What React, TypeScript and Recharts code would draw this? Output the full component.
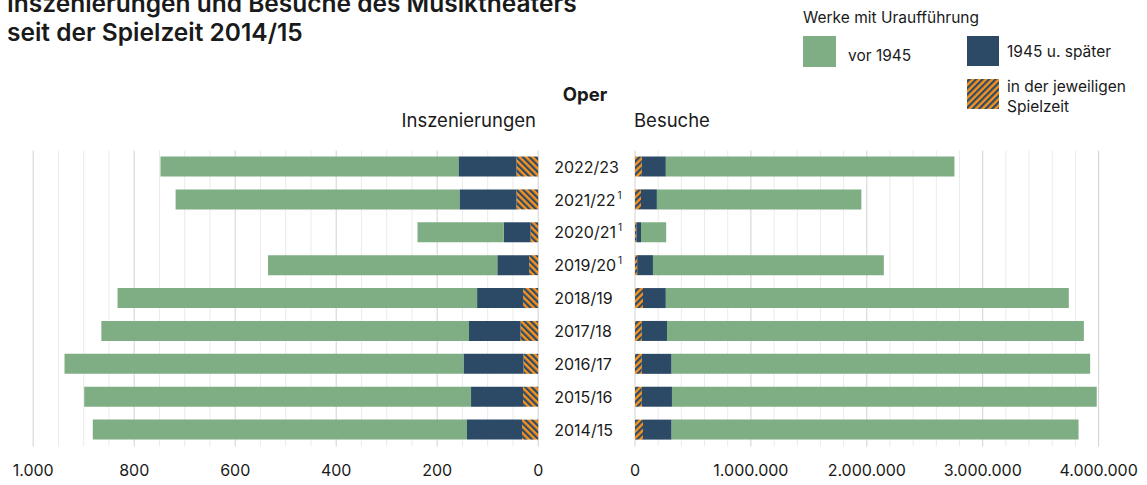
import React from 'react';
import { BarChart, Bar, XAxis, YAxis, CartesianGrid } from 'recharts';

const seasons = ['2022/23', '2021/22', '2020/21', '2019/20', '2018/19', '2017/18', '2016/17', '2015/16', '2014/15'];
const footnotedSeasons = ['2021/22', '2020/21', '2019/20'];

// Inszenierungen
const inszVor1945 = [590, 562, 171, 454, 712, 728, 790, 766, 741];
const insz1945 = [115, 113, 53, 63, 91, 102, 119, 103, 109];
const inszSpielzeit = [43, 43, 15, 18, 30, 35, 29, 30, 32];

// Besuche
const besVor1945 = [2490000, 1764000, 217000, 1992000, 3477000, 3597000, 3611000, 3665000, 3511000];
const bes1945 = [207000, 137000, 40000, 136000, 197000, 217000, 257000, 260000, 247000];
const besSpielzeit = [59000, 52000, 12000, 19000, 69000, 59000, 59000, 59000, 69000];

const inszMajorTicks = [0, 200, 400, 600, 800, 1000];
const inszMinorTicks = [50, 100, 150, 250, 300, 350, 450, 500, 550, 650, 700, 750, 850, 900, 950];
const besMajorTicks = [0, 1000000, 2000000, 3000000, 4000000];
const besMinorTicks = [200000, 400000, 600000, 800000, 1200000, 1400000, 1600000, 1800000, 2200000, 2400000, 2600000, 2800000, 3200000, 3400000, 3600000, 3800000];

const legendTitle = 'Werke mit Uraufführung';
const legendLabels = ['vor 1945', '1945 u. später', 'in der jeweiligen', 'Spielzeit'];

const GREEN = '#7fae84';
const BLUE = '#2c4a66';
const ORANGE = '#f7921e';
const FONT = 'Inter, "Noto Sans", sans-serif';
const TEXT = '#1a1a1a';
const MINOR = '#ebebeb';

const inszData = seasons.map((s, i) => ({ season: s, neu: inszSpielzeit[i], nach: insz1945[i], vor: inszVor1945[i] }));
const besData = seasons.map((s, i) => ({ season: s, neu: besSpielzeit[i], nach: bes1945[i], vor: besVor1945[i] }));

const fmt = (v: number) => String(v).replace(/\B(?=(\d{3})+(?!\d))/g, '.');

const minorGenerator = (values: number[]) => (props: any) => {
  const axis = props && props.xAxis;
  const scale = axis && axis.scale;
  if (typeof scale === 'function') return values.map((v) => scale(v));
  if (scale && typeof scale.map === 'function') return values.map((v) => scale.map(v));
  return [];
};

const SeasonTick = (props: any) => {
  const { x, y, payload } = props;
  const note = footnotedSeasons.includes(payload.value);
  return (
    <text x={x} y={y} dy="0.36em" textAnchor="start" fontSize={16} fill={TEXT} fontFamily={FONT}>
      {payload.value}
      {note && (
        <tspan dx={2} dy={-7} fontSize={10}>
          1
        </tspan>
      )}
    </text>
  );
};

const Hatch = ({ id, angle }: { id: string; angle: number }) => (
  <pattern id={id} patternUnits="userSpaceOnUse" width={4.6} height={4.6} patternTransform={`rotate(${angle})`}>
    <rect x={0} y={0} width={4.6} height={4.6} fill={ORANGE} />
    <rect x={0} y={0} width={2.2} height={4.6} fill={BLUE} />
  </pattern>
);

const tickStyle = { fontSize: 16, fill: TEXT, fontFamily: FONT };

export default function App() {
  return (
    <div style={{ position: 'absolute', left: 0, top: 0, width: 1147, height: 485, overflow: 'hidden', background: '#fff', fontFamily: FONT }}>
      <div style={{ position: 'absolute', left: 0, top: 0 }}>
        <BarChart
          layout="vertical"
          width={640}
          height={485}
          data={inszData}
          margin={{ top: 150.5, bottom: 8.5, left: 33.2, right: 1.8 }}
          barSize={20}
        >
          <defs>
            <Hatch id="hatchLeft" angle={-45} />
          </defs>
          <CartesianGrid horizontal={false} stroke={MINOR} strokeWidth={1} verticalCoordinatesGenerator={minorGenerator(inszMinorTicks)} />
          <CartesianGrid horizontal={false} stroke="#d2d2d2" strokeWidth={1} />
          <XAxis
            type="number"
            domain={[0, 1000]}
            reversed
            ticks={inszMajorTicks}
            interval={0}
            tickFormatter={fmt}
            axisLine={false}
            tickLine={false}
            tickSize={0}
            tickMargin={18}
            height={30}
            tick={tickStyle}
          />
          <YAxis
            type="category"
            dataKey="season"
            orientation="right"
            width={100}
            axisLine={false}
            tickLine={false}
            tickSize={0}
            tickMargin={16}
            tick={<SeasonTick />}
            interval={0}
          />
          <Bar dataKey="neu" stackId="a" fill="url(#hatchLeft)" isAnimationActive={false} />
          <Bar dataKey="nach" stackId="a" fill={BLUE} isAnimationActive={false} />
          <Bar dataKey="vor" stackId="a" fill={GREEN} isAnimationActive={false} />
        </BarChart>
      </div>
      <div style={{ position: 'absolute', left: 600, top: 0 }}>
        <BarChart
          layout="vertical"
          width={547}
          height={485}
          data={besData}
          margin={{ top: 150.5, bottom: 8.5, left: 35, right: 48.4 }}
          barSize={20}
        >
          <defs>
            <Hatch id="hatchRight" angle={45} />
          </defs>
          <CartesianGrid horizontal={false} stroke={MINOR} strokeWidth={1} verticalCoordinatesGenerator={minorGenerator(besMinorTicks)} />
          <CartesianGrid horizontal={false} stroke="#d2d2d2" strokeWidth={1} />
          <XAxis
            type="number"
            domain={[0, 4000000]}
            ticks={besMajorTicks}
            interval={0}
            tickFormatter={fmt}
            axisLine={false}
            tickLine={false}
            tickSize={0}
            tickMargin={18}
            height={30}
            tick={tickStyle}
          />
          <YAxis type="category" dataKey="season" hide width={0} />
          <Bar dataKey="neu" stackId="a" fill="url(#hatchRight)" isAnimationActive={false} />
          <Bar dataKey="nach" stackId="a" fill={BLUE} isAnimationActive={false} />
          <Bar dataKey="vor" stackId="a" fill={GREEN} isAnimationActive={false} />
        </BarChart>
      </div>
      <svg width={1147} height={485} style={{ position: 'absolute', left: 0, top: 0, pointerEvents: 'none' }}>
        <defs>
          <Hatch id="hatchLegend" angle={45} />
        </defs>
        <g fontFamily={FONT} fill={TEXT}>
          <text x={7} y={12} fontSize={24.5} fontWeight={600}>Inszenierungen und Besuche des Musiktheaters</text>
          <text x={7} y={41} fontSize={24.5} fontWeight={600}>seit der Spielzeit 2014/15</text>
          <text x={585} y={101} fontSize={18.5} fontWeight={700} textAnchor="middle">Oper</text>
          <text x={536} y={127} fontSize={18.5} textAnchor="end">Inszenierungen</text>
          <text x={634} y={127} fontSize={18.5}>Besuche</text>
          <text x={803} y={23} fontSize={15.5}>{legendTitle}</text>
          <rect x={803} y={36} width={33} height={31} fill={GREEN} />
          <text x={848} y={61} fontSize={15.5}>{legendLabels[0]}</text>
          <rect x={967} y={36} width={32} height={30} fill={BLUE} />
          <text x={1007} y={57} fontSize={15.5}>{legendLabels[1]}</text>
          <rect x={967} y={79} width={32} height={30} fill="url(#hatchLegend)" />
          <text x={1007} y={92} fontSize={15.5}>{legendLabels[2]}</text>
          <text x={1007} y={112} fontSize={15.5}>{legendLabels[3]}</text>
        </g>
      </svg>
    </div>
  );
}
